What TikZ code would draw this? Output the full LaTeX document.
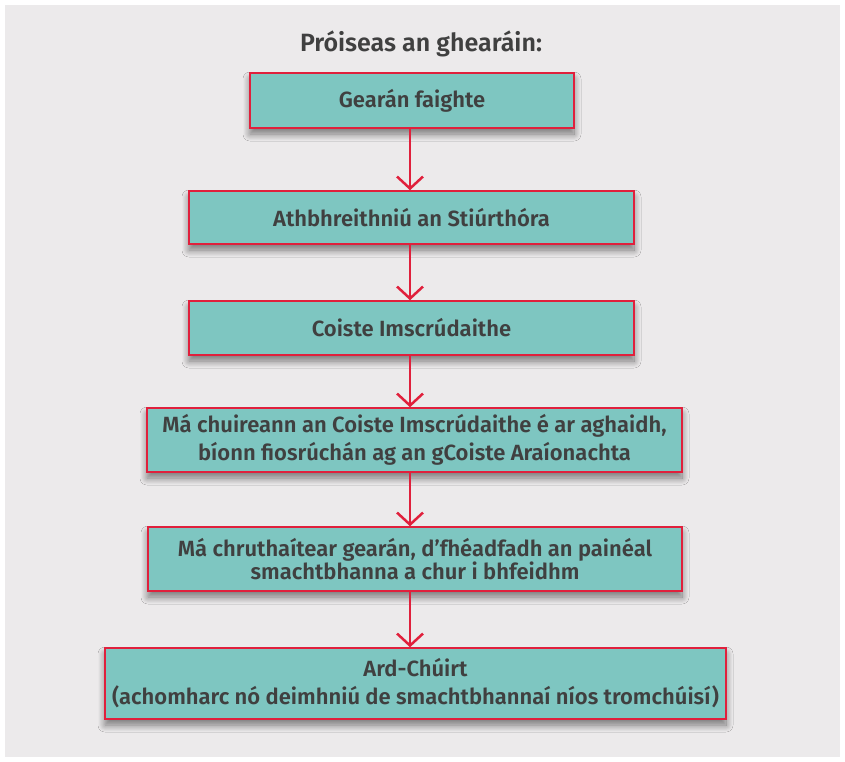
\documentclass[tikz,border=0pt]{standalone}
\usepackage{fontspec}
\setmainfont{Fira Sans}[BoldFont={Fira Sans SemiBold}]
\usetikzlibrary{arrows.meta,shadows.blur}
\definecolor{bgc}{HTML}{ECEAEB}
\definecolor{tealc}{HTML}{7EC6C1}
\definecolor{redc}{HTML}{E0203C}
\definecolor{txtc}{HTML}{404040}
\tikzset{
  box/.style={draw=redc, line width=1.5pt, fill=tealc, text=txtc, align=center,
    font=\fontsize{22}{28}\selectfont\bfseries, inner sep=0pt,
    blur shadow={shadow xshift=0pt, shadow yshift=-6pt, shadow blur steps=12, shadow opacity=50, shadow blur radius=7pt}},
  flow/.style={draw=redc, line width=2.5pt, -{Straight Barb[length=12pt,width=26pt,line width=2.5pt]}}
}
\begin{document}
\begin{tikzpicture}[x=1pt,y=-1pt]
\useasboundingbox (0,0) rectangle (845,761);
\fill[white] (0,0) rectangle (845,761);
\fill[bgc] (5,5) rectangle (840,757);
\node[text=txtc, font=\fontsize{25}{30}\selectfont\bfseries] (title) at (421,44) {Próiseas an ghearáin:};
\node[box, minimum width=324pt, minimum height=55pt] (b1) at (412,100.5) {Gearán faighte};
\node[box, minimum width=445pt, minimum height=53pt] (b2) at (411.5,217.5) {Athbhreithniú an Stiúrthóra};
\node[box, minimum width=445pt, minimum height=54pt] (b3) at (411.5,328) {Coiste Imscrúdaithe};
\node[box, minimum width=535pt, minimum height=64pt] (b4) at (414.5,440) {Má chuireann an Coiste Imscrúdaithe é ar aghaidh,\\ bíonn fiosrúchán ag an gCoiste Araíonachta};
\node[box, minimum width=534pt, minimum height=64pt, font=\fontsize{22}{21}\selectfont\bfseries] (b5) at (415,559) {Má chruthaítear gearán, d’fhéadfadh an painéal\\ smachtbhanna a chur i bhfeidhm};
\node[box, minimum width=621pt, minimum height=71pt] (b6) at (415.5,683.5) {Ard-Chúirt\\ (achomharc nó deimhniú de smachtbhannaí níos tromchúisí)};
\coordinate (ax) at (410,0);
\draw[flow] (b1.south -| ax) -- (b2.north -| ax);
\draw[flow] (b2.south -| ax) -- (b3.north -| ax);
\draw[flow] (b3.south -| ax) -- (b4.north -| ax);
\draw[flow] (b4.south -| ax) -- (b5.north -| ax);
\draw[flow] (b5.south -| ax) -- (b6.north -| ax);
\end{tikzpicture}
\end{document}
